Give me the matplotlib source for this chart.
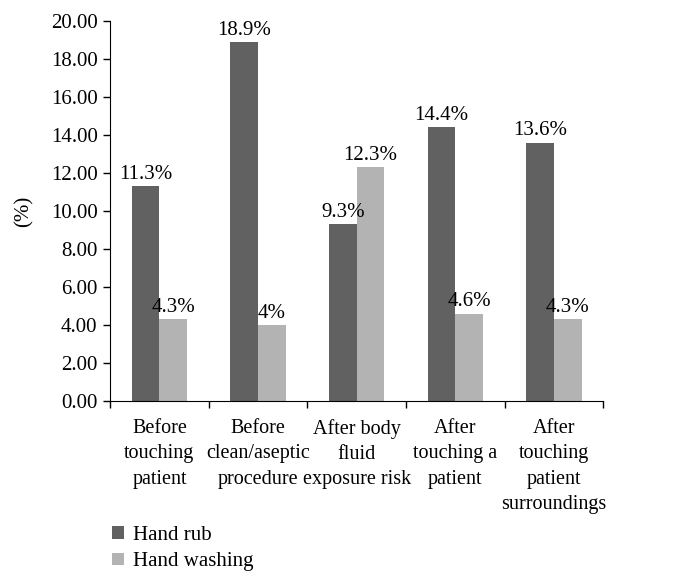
import matplotlib
matplotlib.use("Agg")
import matplotlib.pyplot as plt
import numpy as np

categories = ["Before\ntouching\npatient", "Before\nclean/aseptic\nprocedure",
              "After body\nfluid\nexposure risk", "After\ntouching a\npatient",
              "After\ntouching\npatient\nsurroundings"]
hand_rub = [11.3, 18.9, 9.3, 14.4, 13.6]
hand_washing = [4.3, 4.0, 12.3, 4.6, 4.3]
rub_labels = ["11.3%", "18.9%", "9.3%", "14.4%", "13.6%"]
wash_labels = ["4.3%", "4%", "12.3%", "4.6%", "4.3%"]
yticks = [0, 2, 4, 6, 8, 10, 12, 14, 16, 18, 20]

FS = 15
plt.rcParams['font.family'] = ['Liberation Serif', 'DejaVu Serif']
fig = plt.figure(figsize=(6.84, 5.87), dpi=100)
ax = fig.add_axes([0.161, 0.317, 0.721, 0.647])

x = np.arange(len(categories))
w = 0.28
dark = "#616161"
light = "#b3b3b3"
b1 = ax.bar(x - w/2, hand_rub, w, color=dark, label="Hand rub")
b2 = ax.bar(x + w/2, hand_washing, w, color=light, label="Hand washing")

for xi, v, t in zip(x, hand_rub, rub_labels):
    ax.text(xi - w/2, v + 0.12, t, ha="center", va="bottom", fontsize=FS)
for xi, v, t in zip(x, hand_washing, wash_labels):
    ax.text(xi + w/2, v + 0.12, t, ha="center", va="bottom", fontsize=FS)

ax.set_xlim(-0.5, len(categories) - 0.5)
ax.set_ylim(0, 20)
ax.set_yticks(yticks)
ax.set_yticklabels([f"{v:.2f}" for v in yticks], fontsize=FS)
ax.set_xticks(np.arange(len(categories) + 1) - 0.5)
ax.set_xticklabels([])
ax.set_xticks(x, minor=True)
ax.set_xticklabels(categories, minor=True, fontsize=14.5, linespacing=1.45, va="top")
ax.tick_params(axis="x", which="minor", length=0, pad=13)
ax.tick_params(axis="x", which="major", length=5, direction="out", width=1)
ax.tick_params(axis="y", length=5, direction="out", width=1, pad=4)
for s in ["top", "right"]:
    ax.spines[s].set_visible(False)
ax.set_ylabel("(%)", fontsize=FS, labelpad=12)

fig.legend(handles=[b1, b2], loc="upper left", bbox_to_anchor=(0.152, 0.118),
           frameon=False, fontsize=FS, handlelength=0.55, handleheight=0.55,
           handletextpad=0.45, labelspacing=0.35, borderaxespad=0)

fig.savefig("out.png", dpi=100)
